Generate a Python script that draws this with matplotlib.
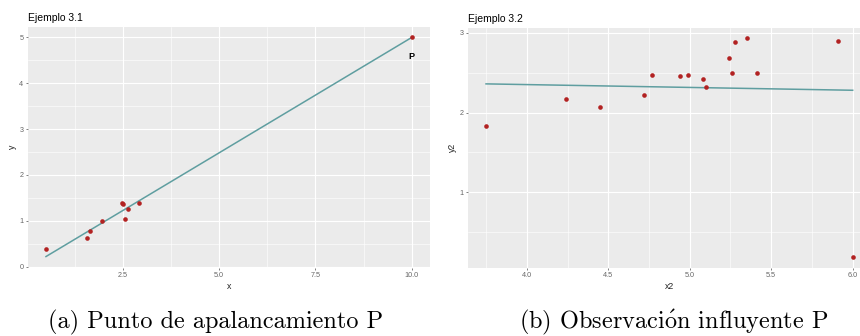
import matplotlib
matplotlib.use("Agg")
import matplotlib.pyplot as plt
import numpy as np
from matplotlib.ticker import FixedLocator

plt.rcParams["mathtext.fontset"] = "cm"

# ---- data ----
x1 = [0.51, 1.58, 1.64, 1.97, 2.47, 2.51, 2.56, 2.63, 2.92, 10.0]
y1 = [0.39, 0.63, 0.78, 0.99, 1.39, 1.37, 1.04, 1.25, 1.38, 5.0]
fit1_x = [0.51, 10.0]
fit1_y = [0.22, 5.0]

x2 = [3.75, 4.24, 4.45, 4.72, 4.77, 4.94, 4.99, 5.08, 5.10, 5.24, 5.26,
      5.28, 5.35, 5.41, 5.91, 6.0]
y2 = [1.83, 2.17, 2.075, 2.22, 2.47, 2.46, 2.47, 2.42, 2.32, 2.69, 2.50,
      2.89, 2.93, 2.50, 2.90, 0.195]
fit2_x = [3.75, 6.0]
fit2_y = [2.36, 2.28]

titles = ["Ejemplo 3.1", "Ejemplo 3.2"]
xlabels = ["x", "x2"]
ylabels = ["y", "y2"]
captions = ["(a) Punto de apalancamiento P",
            r"(b) Observaci$\acute{\mathrm{o}}$n influyente P"]
xticks1 = [2.5, 5.0, 7.5, 10.0]
yticks1 = [0, 1, 2, 3, 4, 5]
xticks2 = [4.0, 4.5, 5.0, 5.5, 6.0]
yticks2 = [1, 2, 3]

# ---- style ----
PANEL = "#EBEBEB"
PT_COL = "#B22222"
LINE_COL = "#5F9EA0"
SANS = ["Liberation Sans", "DejaVu Sans"]

fig = plt.figure(figsize=(8.6, 3.36), dpi=100)
W, H = 860.0, 336.0

def ax_at(l, r, t, b):
    return fig.add_axes([l / W, 1 - b / H, (r - l) / W, (b - t) / H])

def expand(vals):
    lo, hi = min(vals), max(vals)
    d = (hi - lo) * 0.05
    return lo - d, hi + d

def style(ax, xt, yt, xminor, yminor, title, xl, yl):
    ax.set_facecolor(PANEL)
    for s in ax.spines.values():
        s.set_visible(False)
    ax.xaxis.set_major_locator(FixedLocator(xt))
    ax.yaxis.set_major_locator(FixedLocator(yt))
    ax.xaxis.set_minor_locator(FixedLocator(xminor))
    ax.yaxis.set_minor_locator(FixedLocator(yminor))
    ax.grid(which="major", color="white", lw=0.8)
    ax.grid(which="minor", color="white", lw=0.4)
    ax.set_axisbelow(True)
    ax.tick_params(which="major", length=1.6, width=0.5, color="#4D4D4D",
                   labelsize=5.2, labelcolor="#666666", pad=1.5)
    ax.tick_params(which="minor", length=0)
    ax.set_title(title, loc="left", fontsize=7.5, family=SANS, pad=4)
    ax.set_xlabel(xl, fontsize=6.3, family=SANS, labelpad=2, color="#222222")
    ax.set_ylabel(yl, fontsize=6.3, family=SANS, labelpad=2, color="#222222")

# left panel
ax1 = ax_at(27.7, 430, 26.5, 267.5)
ax1.plot(fit1_x, fit1_y, color=LINE_COL, lw=1.1, zorder=2)
ax1.scatter(x1, y1, s=11, color=PT_COL, zorder=3, linewidths=0)
ax1.set_xlim(*expand(x1))
ax1.set_ylim(*expand(y1 + fit1_y))
style(ax1, xticks1, yticks1, [1.25, 3.75, 6.25, 8.75],
      [0.5, 1.5, 2.5, 3.5, 4.5], titles[0], xlabels[0], ylabels[0])
ax1.set_xticklabels([f"{v:.1f}" for v in xticks1], family=SANS)
ax1.set_yticklabels([str(v) for v in yticks1], family=SANS)
ax1.annotate("P", (x1[-1], y1[-1]), xytext=(0, -13.5), textcoords="offset points",
             ha="center", va="center", fontsize=6.5, fontweight="bold",
             family=SANS)

# right panel (runs past the image edge, as in the reference)
ax2 = ax_at(467.7, 871, 27.5, 267.5)
ax2.plot(fit2_x, fit2_y, color=LINE_COL, lw=1.1, zorder=2)
ax2.scatter(x2, y2, s=11, color=PT_COL, zorder=3, linewidths=0)
ax2.set_xlim(*expand(x2))
ax2.set_ylim(*expand(y2))
style(ax2, xticks2, yticks2, [3.75, 4.25, 4.75, 5.25, 5.75],
      [0.5, 1.5, 2.5], titles[1], xlabels[1], ylabels[1])
ax2.set_xticklabels([f"{v:.1f}" for v in xticks2], family=SANS)
ax2.set_yticklabels([str(v) for v in yticks2], family=SANS)

# captions
for cx, txt in zip([216, 674], captions):
    fig.text(cx / W, 1 - 328 / H, txt, ha="center", va="baseline",
             fontsize=17.5, family=["cmr10", "DejaVu Serif"])

fig.savefig("out.png", dpi=100)
